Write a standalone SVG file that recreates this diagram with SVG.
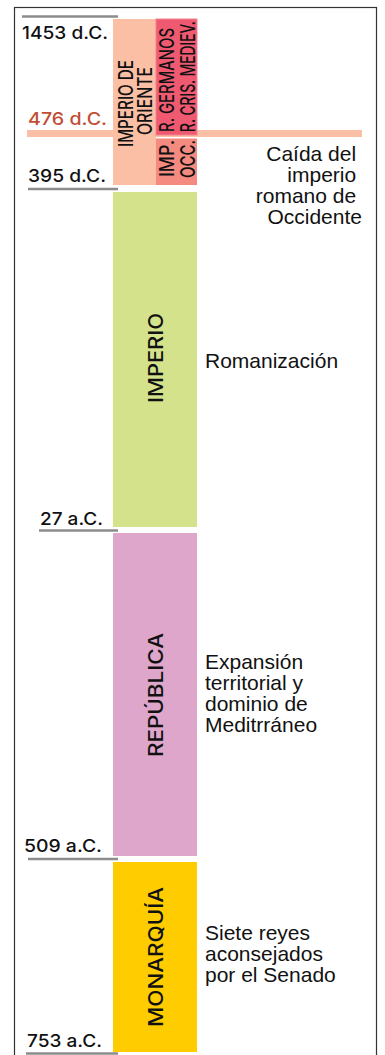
<svg xmlns="http://www.w3.org/2000/svg" width="385" height="1055" viewBox="0 0 385 1055">
<style>
.date{font-family:Inter,"Open Sans",sans-serif;font-size:17.5px;font-weight:500;fill:#111;}
.tick{stroke:#8c8c8c;stroke-width:2.5;}
.vlab{font-family:Inter,"Open Sans",sans-serif;font-size:20px;font-weight:500;fill:#111;}
.nar{font-family:Inter,"Open Sans",sans-serif;font-size:20px;font-weight:500;fill:#111;}
.desc{font-family:"Liberation Sans",Arial,sans-serif;font-size:21px;fill:#111;}
</style>
<rect x="14.5" y="7.5" width="362" height="1060" fill="#fff" stroke="#333" stroke-width="1.2"/>
<g id="connectors">
<rect x="27" y="130" width="335" height="7" fill="#fbbfa5"/>
</g>
<g id="ticks">
<line class="tick" x1="22" y1="16.5" x2="118" y2="16.5"/>
<line class="tick" x1="28" y1="189" x2="118" y2="189"/>
<line class="tick" x1="39" y1="530.5" x2="118" y2="530.5"/>
<line class="tick" x1="28" y1="859" x2="118" y2="859"/>
<line class="tick" x1="26" y1="1053.5" x2="118" y2="1053.5"/>
</g>
<g id="dates">
<text class="date" x="22" y="39" textLength="86" lengthAdjust="spacingAndGlyphs">1453 d.C.</text>
<text class="date" x="28" y="125" textLength="79" lengthAdjust="spacingAndGlyphs" style="fill:#c24d36">476 d.C.</text>
<text class="date" x="28" y="182" textLength="78" lengthAdjust="spacingAndGlyphs">395 d.C.</text>
<text class="date" x="40" y="525" textLength="63" lengthAdjust="spacingAndGlyphs">27 a.C.</text>
<text class="date" x="24" y="852" textLength="78" lengthAdjust="spacingAndGlyphs">509 a.C.</text>
<text class="date" x="27" y="1047" textLength="75" lengthAdjust="spacingAndGlyphs">753 a.C.</text>
</g>
<g id="imperio-oriente">
<rect x="113" y="19" width="43" height="166" fill="#fbbfa5"/>
<text class="nar" transform="translate(133,147) rotate(-90)" textLength="87" lengthAdjust="spacingAndGlyphs">IMPERIO DE</text>
<text class="nar" transform="translate(152,135) rotate(-90)" textLength="68" lengthAdjust="spacingAndGlyphs">ORIENTE</text>
</g>
<g id="reinos">
<rect x="156" y="19" width="41" height="116" fill="#ef5a71" stroke="#f3818f" stroke-width="1"/>
<text class="nar" transform="translate(174,132) rotate(-90)" textLength="104" lengthAdjust="spacingAndGlyphs">R. GERMANOS</text>
<text class="nar" transform="translate(195,132) rotate(-90)" textLength="111" lengthAdjust="spacingAndGlyphs">R. CRIS. MEDIEV.</text>
</g>
<g id="imp-occ">
<rect x="156" y="138.5" width="41" height="46.5" fill="#f48a80"/>
<text class="nar" transform="translate(174,177) rotate(-90)" textLength="37" lengthAdjust="spacingAndGlyphs">IMP.</text>
<text class="nar" transform="translate(195,178) rotate(-90)" textLength="38" lengthAdjust="spacingAndGlyphs">OCC.</text>
</g>
<g id="imperio">
<rect x="113" y="192" width="84" height="335" fill="#d4e38b"/>
<text class="vlab" transform="translate(163,403) rotate(-90)" textLength="90" lengthAdjust="spacingAndGlyphs">IMPERIO</text>
</g>
<g id="republica">
<rect x="113" y="533" width="84" height="323" fill="#dea6cb"/>
<text class="vlab" transform="translate(163,757) rotate(-90)" textLength="124" lengthAdjust="spacingAndGlyphs">REPÚBLICA</text>
</g>
<g id="monarquia">
<rect x="113" y="862" width="84" height="190" fill="#ffcc00"/>
<text class="vlab" transform="translate(163,1027) rotate(-90)" textLength="140" lengthAdjust="spacingAndGlyphs">MONARQUÍA</text>
</g>
<g id="caida">
<text class="desc" text-anchor="end">
<tspan x="362" y="161">Caída del</tspan>
<tspan x="362" y="182">imperio</tspan>
<tspan x="362" y="203">romano de</tspan>
<tspan x="362" y="224">Occidente</tspan>
</text>
</g>
<g id="romanizacion">
<text class="desc" x="205" y="368">Romanización</text>
</g>
<g id="expansion">
<text class="desc">
<tspan x="205" y="669">Expansión</tspan>
<tspan x="205" y="690">territorial y</tspan>
<tspan x="205" y="711">dominio de</tspan>
<tspan x="205" y="732">Meditrráneo</tspan>
</text>
</g>
<g id="siete">
<text class="desc">
<tspan x="205" y="940">Siete reyes</tspan>
<tspan x="205" y="961">aconsejados</tspan>
<tspan x="205" y="982">por el Senado</tspan>
</text>
</g>
</svg>
